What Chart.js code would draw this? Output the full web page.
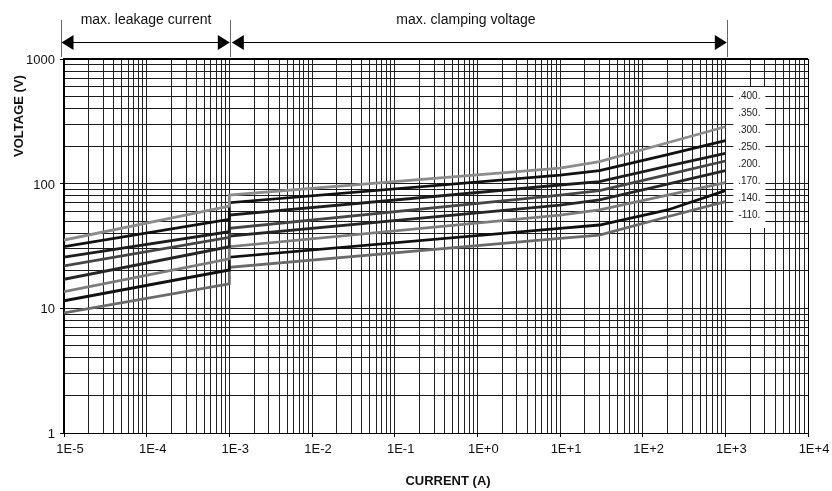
<!DOCTYPE html>
<html>
<head>
<meta charset="utf-8">
<script src="https://cdn.jsdelivr.net/npm/chart.js@4/dist/chart.umd.min.js"></script>
<style>
html,body{margin:0;padding:0;background:#fff;}
#wrap{width:832px;height:491px;position:relative;}
</style>
</head>
<body>
<div id="wrap"><canvas id="c" width="832" height="491"></canvas></div>
<script>
// ---- data ----
const currents = [1e-5, 1e-3, 1e-3, 10, 30, 200, 1000];
const v400 = [35.3, 66.2, 81.0, 133, 150, 213, 286];
const v350 = [31.2, 51.8, 70.4, 117, 127, 171, 221];
const v300 = [25.7, 41.2, 56.0, 97.6, 104, 138, 175];
const v250 = [21.9, 37.1, 43.8, 81.0, 88.0, 118, 152];
const v200 = [17.1, 31.2, 38.0, 67.4, 74.0, 99.0, 127];
const v170 = [13.6, 24.9, 31.2, 56.0, 61.5, 81.0, 102];
const v140 = [11.5, 20.3, 25.7, 43.8, 46.6, 61.5, 88.0];
const v110 = [9.2, 15.7, 21.3, 36.4, 38.7, 54.3, 71.7];
const seriesLabels = ['.400.', '.350.', '.300.', '.250.', '.200.', '.170.', '.140.', '-110.'];
const xTickLabels = ['1E-5','1E-4','1E-3','1E-2','1E-1','1E+0','1E+1','1E+2','1E+3','1E+4'];
const yTickLabels = ['1','10','100','1000'];
const xTitle = 'CURRENT (A)';
const yTitle = 'VOLTAGE (V)';
const leakageText = 'max. leakage current';
const clampingText = 'max. clamping voltage';

// ---- styling ----
const FONT = "'Liberation Sans', Arial, Helvetica, sans-serif";
const colors = ['#8c8c8c', '#111111', '#1c1c1c', '#454545', '#262626', '#7c7c7c', '#101010', '#6a6a6a'];
const allSeries = [v400, v350, v300, v250, v200, v170, v140, v110];

const datasets = allSeries.map((vals, i) => ({
  label: seriesLabels[i],
  data: currents.map((c, k) => ({x: c, y: vals[k]})),
  borderColor: colors[i],
  borderWidth: 2.8,
  pointRadius: 0,
  tension: 0,
  fill: false
}));

function isDecade(v) {
  const l = Math.log10(v);
  return Math.abs(l - Math.round(l)) < 1e-9;
}
function logTicks(minExp, maxExp) {
  const t = [];
  for (let e = minExp; e < maxExp; e++) {
    for (let m = 1; m <= 9; m++) t.push({value: Number(m + 'e' + e)});
  }
  t.push({value: Number('1e' + maxExp)});
  return t;
}

const decorPlugin = {
  id: 'decor',
  beforeDraw(chart) {
    const ctx = chart.ctx;
    ctx.save();
    ctx.fillStyle = '#fff';
    ctx.fillRect(0, 0, chart.width, chart.height);
    ctx.restore();
  },
  afterDraw(chart) {
    const ctx = chart.ctx;
    const xs = chart.scales.x, ys = chart.scales.y;
    const a = chart.chartArea;
    ctx.save();
    // top and right frame
    ctx.strokeStyle = '#000';
    ctx.lineWidth = 2;
    ctx.beginPath();
    ctx.moveTo(a.left - 1, a.top);
    ctx.lineTo(a.right, a.top);
    ctx.stroke();
    ctx.lineWidth = 1;
    ctx.beginPath();
    ctx.moveTo(a.right + 0.5, a.top);
    ctx.lineTo(a.right + 0.5, a.bottom);
    ctx.stroke();

    // legend box
    const bx = xs.getPixelForValue(1e3) + 8;
    ctx.fillStyle = '#fff';
    ctx.fillRect(bx, 87, 32, 141);
    ctx.fillStyle = '#222';
    ctx.font = '10px ' + FONT;
    ctx.textAlign = 'center';
    ctx.textBaseline = 'middle';
    seriesLabels.forEach((s, i) => {
      ctx.fillText(s, bx + 16, 96 + i * 17.1);
    });

    // axis titles
    ctx.fillStyle = '#111';
    ctx.font = 'bold 13px ' + FONT;
    ctx.textAlign = 'center';
    ctx.textBaseline = 'middle';
    ctx.fillText(xTitle, 448, 481);
    ctx.save();
    ctx.translate(19, 116);
    ctx.rotate(-Math.PI / 2);
    ctx.fillText(yTitle, 0, 0);
    ctx.restore();

    // annotation arrows
    const x0 = xs.getPixelForValue(1e-5) - 3;
    const x1 = xs.getPixelForValue(1e-3) + 1;
    const x2 = xs.getPixelForValue(1e3) + 1.5;
    ctx.strokeStyle = '#666';
    ctx.lineWidth = 1;
    [x0, x1, x2].forEach(x => {
      ctx.beginPath();
      ctx.moveTo(Math.round(x) + 0.5, 20);
      ctx.lineTo(Math.round(x) + 0.5, 57);
      ctx.stroke();
    });
    const ay = 42.5;
    ctx.strokeStyle = '#000';
    ctx.beginPath();
    ctx.moveTo(x0 + 10, ay); ctx.lineTo(x1 - 11, ay);
    ctx.moveTo(x1 + 11, ay); ctx.lineTo(x2 - 11, ay);
    ctx.stroke();
    ctx.fillStyle = '#000';
    function head(tipX, dir) {
      ctx.beginPath();
      ctx.moveTo(tipX, ay);
      ctx.lineTo(tipX + dir * 12, ay - 7.5);
      ctx.lineTo(tipX + dir * 12, ay + 7.5);
      ctx.closePath();
      ctx.fill();
    }
    head(x0 + 0.5, 1);
    head(x1 - 0.5, -1);
    head(x1 + 1.5, 1);
    head(x2, -1);
    ctx.fillStyle = '#111';
    ctx.font = '14px ' + FONT;
    ctx.textAlign = 'center';
    ctx.textBaseline = 'middle';
    ctx.fillText(leakageText, 146, 20);
    ctx.fillText(clampingText, 466, 20);
    ctx.restore();
  }
};

new Chart(document.getElementById('c'), {
  type: 'line',
  data: {datasets},
  options: {
    responsive: false,
    devicePixelRatio: 1,
    animation: false,
    events: [],
    layout: {padding: {left: 0, top: 59, right: 24, bottom: 0}},
    plugins: {legend: {display: false}, tooltip: {enabled: false}, title: {display: false}},
    scales: {
      x: {
        type: 'logarithmic',
        min: 1e-5,
        max: 1e4,
        afterBuildTicks: s => { s.ticks = logTicks(-5, 4); },
        afterFit: s => { s.height = 58; },
        grid: {
          color: '#222',
          lineWidth: 1,
          tickLength: 4,
          tickColor: c => (c.tick && isDecade(c.tick.value)) ? '#000' : 'rgba(0,0,0,0)'
        },
        border: {color: '#000', width: 1},
        ticks: {
          autoSkip: false,
          maxRotation: 0,
          minRotation: 0,
          padding: 5,
          labelOffset: 6,
          color: '#111',
          font: {family: FONT, size: 13},
          callback: v => isDecade(v) ? xTickLabels[Math.round(Math.log10(v)) + 5] : ''
        }
      },
      y: {
        type: 'logarithmic',
        min: 1,
        max: 1000,
        afterBuildTicks: s => { s.ticks = logTicks(0, 3); },
        afterFit: s => { s.width = 64; },
        grid: {
          color: '#1a1a1a',
          lineWidth: 1,
          tickLength: 4,
          tickColor: c => (c.tick && isDecade(c.tick.value)) ? '#000' : 'rgba(0,0,0,0)'
        },
        border: {color: '#000', width: 2},
        ticks: {
          autoSkip: false,
          padding: 5,
          labelOffset: 1.5,
          color: '#111',
          font: {family: FONT, size: 13},
          callback: v => isDecade(v) ? yTickLabels[Math.round(Math.log10(v))] : ''
        }
      }
    }
  },
  plugins: [decorPlugin]
});
</script>
</body>
</html>
